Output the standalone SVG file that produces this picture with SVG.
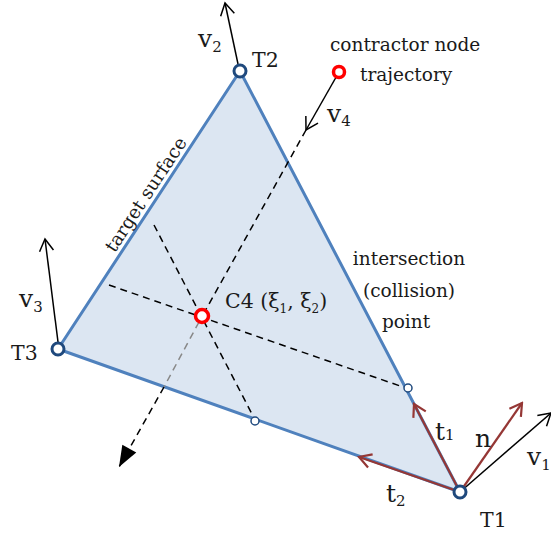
<svg xmlns="http://www.w3.org/2000/svg" width="551" height="534" viewBox="0 0 551 534">
<style>
text{font-family:"DejaVu Serif","Liberation Serif",serif;fill:#1a1a1a}
.edge{fill:none;stroke:#4f81bd;stroke-width:3}
.node{fill:#fff;stroke:#1f497d;stroke-width:3}
.pt{fill:#fff;stroke:#1f497d;stroke-width:1.5}
.red{fill:#fff;stroke:#ff0000;stroke-width:3.5}
.vk{stroke:#000;stroke-width:1.5;fill:none}
.vr{stroke:#953735;stroke-width:2.2;fill:none}
.dash{stroke:#000;stroke-width:1.5;stroke-dasharray:7 5;fill:none}
.dg{stroke:#888;stroke-width:1.5;stroke-dasharray:7 5;fill:none}
</style>
<defs>
<marker id="ak" viewBox="-15 -10 17 20" markerWidth="17" markerHeight="20" refX="0" refY="0" orient="auto" markerUnits="userSpaceOnUse">
<path d="M-12,-7 L0,0 L-12,7" fill="none" stroke="#000" stroke-width="1.5"/>
</marker>
<marker id="ar" viewBox="-15 -10 17 20" markerWidth="17" markerHeight="20" refX="0" refY="0" orient="auto" markerUnits="userSpaceOnUse">
<path d="M-12,-7 L0,0 L-12,7" fill="none" stroke="#953735" stroke-width="2.2"/>
</marker>
<marker id="af" viewBox="-22 -10 24 20" markerWidth="24" markerHeight="20" refX="0" refY="0" orient="auto" markerUnits="userSpaceOnUse">
<path d="M-21,-8 L0,0 L-21,8 Z" fill="#000"/>
</marker>
</defs>

<g id="surface">
<polygon points="460,492 240,71 58,349" fill="#dce6f2" stroke="none"/>
<polygon points="460,492 240,71 58,349" class="edge" stroke-linejoin="round"/>
<text transform="translate(151,198) rotate(-56.8)" text-anchor="middle" font-size="18.5">target surface</text>
</g>

<g id="connectors">
<line x1="109" y1="285" x2="403" y2="387" class="dash"/>
<line x1="154" y1="225" x2="253" y2="416" class="dash"/>
<line x1="339" y1="72" x2="306" y2="130" class="vk" marker-end="url(#ak)"/>
<line x1="306" y1="130" x2="204" y2="313" class="dash"/>
<line x1="199" y1="322" x2="164" y2="387" class="dg"/>
<line x1="164" y1="387" x2="119" y2="467" class="dash" marker-end="url(#af)"/>
<line x1="238" y1="64" x2="225" y2="3" class="vk" marker-end="url(#ak)"/>
<line x1="58" y1="342" x2="45" y2="239" class="vk" marker-end="url(#ak)"/>
<line x1="460" y1="492" x2="551" y2="413" class="vk" marker-end="url(#ak)"/>
<line x1="460" y1="492" x2="522" y2="403" class="vr" marker-end="url(#ar)"/>
<line x1="460" y1="492" x2="414" y2="404" class="vr" marker-end="url(#ar)"/>
<line x1="460" y1="492" x2="359" y2="457" class="vr" marker-end="url(#ar)"/>
</g>

<g id="T1"><circle cx="460" cy="492" r="6" class="node"/><text x="480" y="527" font-size="20.5">T1</text></g>
<g id="T2"><circle cx="240" cy="71" r="6" class="node"/><text x="252" y="67" font-size="20.5">T2</text></g>
<g id="T3"><circle cx="58" cy="349" r="6" class="node"/><text x="11" y="360" font-size="20.5">T3</text></g>
<g id="C4"><circle cx="202" cy="316" r="6.5" class="red"/><text x="225" y="308" font-size="20.5">C4 (ξ<tspan font-size="12" dy="5">1</tspan><tspan dy="-5">, ξ</tspan><tspan font-size="12" dy="5">2</tspan><tspan dy="-5">)</tspan></text></g>
<g id="contractor"><circle cx="339" cy="72" r="5.5" class="red" stroke-width="3"/>
<text x="330" y="51" font-size="18.5">contractor node</text>
<text x="360" y="81" font-size="18.5">trajectory</text></g>
<g id="P1"><circle cx="408" cy="388" r="4" class="pt"/></g>
<g id="P2"><circle cx="255" cy="421" r="4" class="pt"/></g>
<g id="collision"><text x="409" y="265" text-anchor="middle" font-size="18.5">intersection</text>
<text x="409" y="297" text-anchor="middle" font-size="18.5">(collision)</text>
<text x="406" y="328" text-anchor="middle" font-size="18.5">point</text></g>

<g id="labels" font-size="25">
<text x="198" y="47">v<tspan font-size="15" dy="5">2</tspan></text>
<text x="19" y="307">v<tspan font-size="15" dy="5">3</tspan></text>
<text x="327" y="122">v<tspan font-size="15" dy="4">4</tspan></text>
<text x="527" y="465">v<tspan font-size="15" dy="5">1</tspan></text>
<text x="435" y="440">t<tspan font-size="15" dy="0">1</tspan></text>
<text x="386" y="502">t<tspan font-size="15" dy="4">2</tspan></text>
<text x="475" y="447">n</text>
</g>
</svg>
